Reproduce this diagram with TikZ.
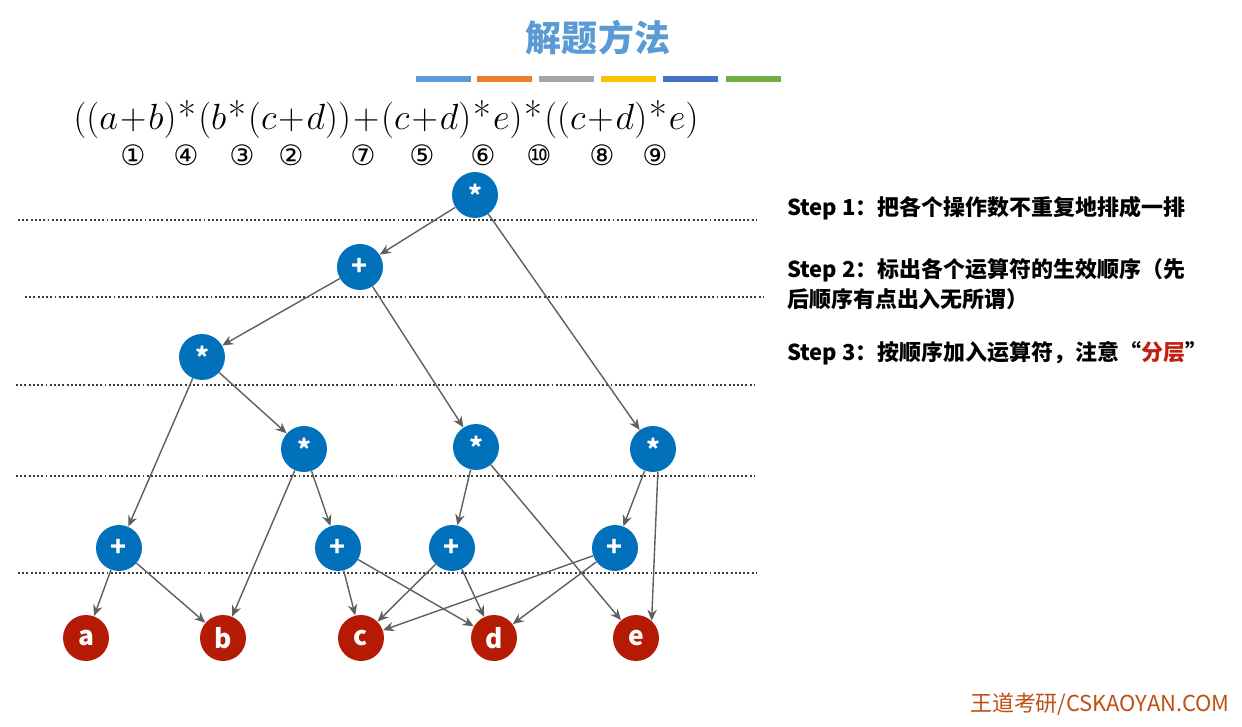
\documentclass[tikz,border=0pt]{standalone}
\usepackage{amsmath}
\usepackage{fontspec}
\usepackage{xcolor}
\usepackage{tikz}
\usetikzlibrary{
    positioning,
    arrows.meta,
}
\newfontfamily\cjk{Noto Sans CJK SC}
\newfontfamily\circfont{DejaVu Sans}
\definecolor{opblue}{RGB}{1,113,187}
\definecolor{leafred}{RGB}{180,26,4}
\definecolor{titleblue}{RGB}{91,155,213}
\definecolor{arrowgray}{RGB}{95,95,95}
\definecolor{layergray}{RGB}{60,60,60}
\definecolor{accentred}{RGB}{192,32,16}
\definecolor{footorange}{RGB}{190,80,20}
\definecolor{bar1}{RGB}{91,155,213}
\definecolor{bar2}{RGB}{237,125,49}
\definecolor{bar3}{RGB}{165,165,165}
\definecolor{bar4}{RGB}{255,192,0}
\definecolor{bar5}{RGB}{68,114,196}
\definecolor{bar6}{RGB}{112,173,71}
\tikzset{
    % Tree node styles
    op node/.style={circle, fill=opblue, minimum size=0.92cm, inner sep=0pt,
                    text=white, font=\cjk\bfseries\fontsize{15}{15}\selectfont},
    leaf node/.style={op node, fill=leafred},
    % Arrow styles
    tree arrow/.style={-{Stealth[length=2.2mm, width=1.9mm]}, draw=arrowgray, line width=0.8pt},
    % Layer separators
    layer line/.style={draw=layergray, line width=1.1pt, dash pattern=on 1.1pt off 1.3pt},
    % Text styles
    step text/.style={font=\cjk\bfseries\fontsize{12.5}{17.5}\selectfont, align=left},
    order mark/.style={font=\circfont\fontsize{16}{16}\selectfont, inner sep=0pt},
}
\newcommand{\tm}{\mathbin{\mbox{*}}}

\begin{document}
\begin{tikzpicture}[x=0.02cm, y=-0.02cm]
    \useasboundingbox (0,0) rectangle (1242,727);

    % Title
    \node[font=\cjk\bfseries\fontsize{20.5}{24}\selectfont, text=titleblue] (title) at (598,38) {解题方法};
    \foreach \x/\c in {416/bar1, 477/bar2, 539/bar3, 601/bar4, 663/bar5, 726/bar6} {
        \fill[\c] (\x,76) rectangle ++(55,6);
    }

    % Expression
    \node (expr) at (386,120) {\fontsize{22}{26}\selectfont\medmuskip=1mu
        $((a+b)\tm(b\tm(c+d))+(c+d)\tm e)\tm((c+d)\tm e)$};
    \foreach \x/\t [count=\i] in {133/①, 186/④, 242/③, 291/②, 363/⑦, 422/⑤, 483/⑥, 539/⑩, 602/⑧, 655/⑨} {
        \node[order mark] (ord\i) at (\x,155) {\t};
    }

    % Layers
    \foreach \y/\a/\b in {220/18/757, 297/25/763, 385/16/755, 476/16/755, 573/18/757} {
        \draw[layer line] (\a,\y) -- (\b,\y);
    }

    % Operators
    \foreach \n/\x/\y/\t in {m1/475/195/*, p1/360/267/+, m2/202/357/*, m3/304/449/*,
                             m4/476/447/*, m5/653/449/*, p2/119/548/+, p3/338/548/+,
                             p4/452/548/+, p5/615/548/+} {
        \node[op node] (\n) at (\x,\y) {\t};
    }

    % Operands
    \foreach \n/\x in {a/86, b/223, c/361, d/494, e/636} {
        \node[leaf node] (\n) at (\x,638) {\n};
    }

    % Edges
    \foreach \s/\t in {m1/p1, m1/m5, p1/m2, p1/m4, m2/p2, m2/m3, m3/b, m3/p3,
                       m4/p4, m4/e, m5/p5, p2/a, p2/b, p3/c, p3/d, p4/c, p4/d, p5/c, p5/d} {
        \draw[tree arrow] (\s) -- (\t);
    }
    \draw[tree arrow] (m5.-78) -- (e.48);

    % Steps
    \node[step text, anchor=west] (s1) at (781,208) {Step 1：把各个操作数不重复地排成一排};
    \node[step text, anchor=north west] (s2) at (781,252) {Step 2：标出各个运算符的生效顺序（先\\后顺序有点出入无所谓）};
    \node[step text, anchor=west] (s3) at (781,353) {Step 3：按顺序加入运算符，注意“{\color{accentred}分层}”};

    % Footer
    \node[font=\cjk\fontsize{12.5}{14}\selectfont, text=footorange, anchor=east] (foot) at (1236,704) {王道考研/CSKAOYAN.COM};
\end{tikzpicture}
\end{document}
